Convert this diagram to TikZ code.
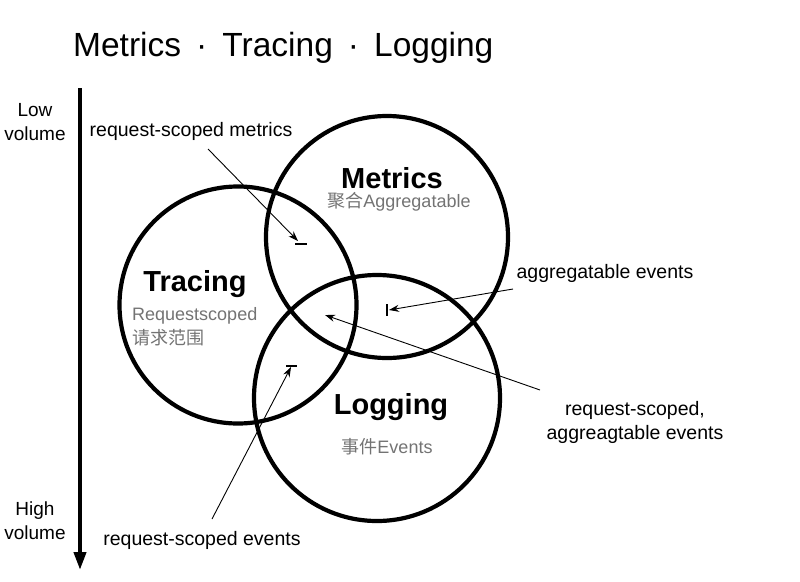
\documentclass[tikz,border=0pt]{standalone}
\usepackage{fontspec}
\setmainfont{Liberation Sans}
\newfontfamily\cjk{Noto Sans CJK SC}
\usetikzlibrary{arrows.meta,positioning}

\begin{document}
\begin{tikzpicture}[x=1pt, y=-1pt,
        ring/.style={circle, draw=black, line width=4.2pt, inner sep=0pt},
        topic/.style={font=\bfseries\fontsize{29}{32}\selectfont, inner sep=0pt},
        subtopic/.style={text=black!55, font=\fontsize{18}{24}\selectfont, inner sep=0pt},
        volume/.style={font=\fontsize{19}{24}\selectfont, align=center, inner sep=0pt},
        note/.style={font=\fontsize{19.5}{24}\selectfont, align=center, inner sep=0pt},
        pointer/.style={-{Stealth[length=10pt,width=7pt]}, line width=0.9pt},
        stopbar/.style={line width=1.1pt},
    ]
        \useasboundingbox (0,0) rectangle (800,581);

        % Title
        \node[anchor=west, inner sep=0pt, font=\fontsize{33.5}{38}\selectfont] (title) at (73,48)
            {Metrics\hspace{0.45em}·\hspace{0.45em}Tracing\hspace{0.45em}·\hspace{0.45em}Logging};

        % Volume axis
        \coordinate (low) at (80,88);
        \coordinate (high) at (80,570);
        \draw[line width=4pt, -{Triangle[length=18pt,width=12pt]}] (low) -- (high);
        \node[volume] (lowvol) at (35,122) {Low\\volume};
        \node[volume] (highvol) at (35,521) {High\\volume};

        % Circles
        \foreach \name/\x/\y/\d in {tracing/238/305/237, metrics/387/237/242, logging/377/398/246}
            \node[ring, minimum size=\d pt] (\name) at (\x,\y) {};

        % Circle labels
        \node[topic] (metricslabel) at (392,178) {Metrics};
        \node[subtopic] (metricssub) at (399,202) {{\cjk 聚合}Aggregatable};
        \node[topic] (tracinglabel) at (195,284) {Tracing};
        \node[subtopic, anchor=west, align=left] (tracingsub) at (132,327) {Requestscoped\\{\cjk 请求范围}};
        \node[topic] (logginglabel) at (391,407) {Logging};
        \node[subtopic] (loggingsub) at (387,447) {{\cjk 事件}Events};

        % Notes
        \node[note] (rsmetrics) at (191,131) {request-scoped metrics};
        \node[note] (aggevents) at (605,273) {aggregatable events};
        \node[note] (rsaggevents) at (635,422) {request-scoped,\\aggreagtable events};
        \node[note] (rsevents) at (202,540) {request-scoped events};

        % Pointer ends
        \coordinate (rsmetricsfrom) at (208,149);
        \coordinate (rsmetricsto) at (298,241);
        \coordinate (aggeventsfrom) at (513,289);
        \coordinate (aggeventsto) at (389,310);
        \coordinate (rsaggeventsfrom) at (540,390);
        \coordinate (rsaggeventsto) at (325,315);
        \coordinate (rseventsfrom) at (212,519);
        \coordinate (rseventsto) at (291,367);

        % Pointers
        \draw[pointer] (rsmetricsfrom) -- (rsmetricsto);
        \draw[pointer] (aggeventsfrom) -- (aggeventsto);
        \draw[pointer] (rsaggeventsfrom) -- (rsaggeventsto);
        \draw[pointer] (rseventsfrom) -- (rseventsto);

        % Stop bars
        \draw[stopbar] ([xshift=-3pt, yshift=-3pt]rsmetricsto) -- ++(12,0);
        \draw[stopbar] ([xshift=-2pt, yshift=6pt]aggeventsto) -- ++(0,12);
        \draw[stopbar] ([xshift=-5pt, yshift=1pt]rseventsto) -- ++(11,0);
    \end{tikzpicture}
\end{document}
